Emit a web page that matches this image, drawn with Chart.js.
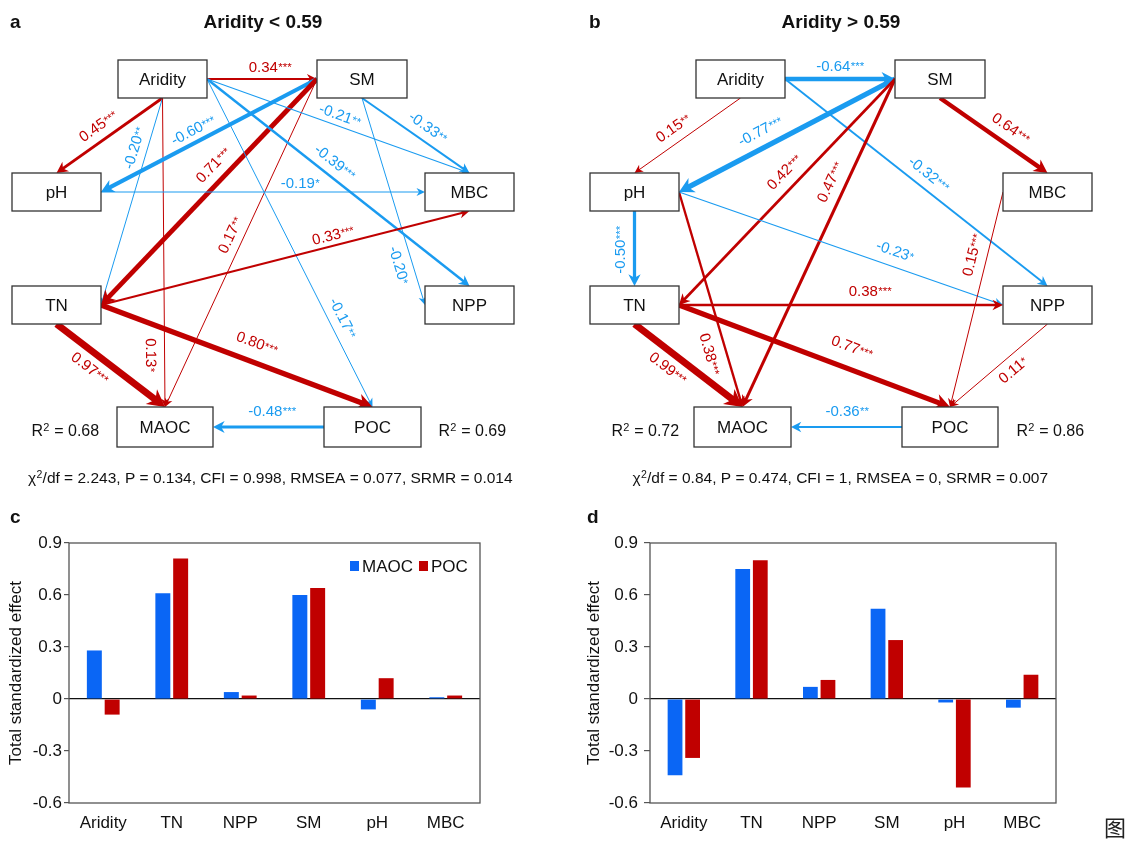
<!DOCTYPE html>
<html>
<head>
<meta charset="utf-8">
<script src="https://cdn.jsdelivr.net/npm/chart.js@4.4.1/dist/chart.umd.min.js"></script>
<style>
  body { margin: 0; background: #fff; }
  #page { position: relative; width: 1127px; height: 842px; overflow: hidden; }
  canvas { position: absolute; }
  #fig { position: absolute; left: 1104px; top: 815px; font: 22px "Noto Sans CJK SC"; line-height: 1; color: #222; }
</style>
</head>
<body>
<div id="page">
  <canvas id="pathLow" width="565" height="500" style="left:0;top:0"></canvas>
  <canvas id="pathHigh" width="562" height="500" style="left:565px;top:0"></canvas>
  <canvas id="barLow" width="565" height="342" style="left:0;top:500px"></canvas>
  <canvas id="barHigh" width="562" height="342" style="left:565px;top:500px"></canvas>
  <span id="fig">图</span>
</div>
<script>
const FONT = '"Liberation Sans", Arial, sans-serif';
const RED = '#c00000';
const BLUE_PATH = '#1a9bf0';
const BLUE_BAR = '#0a66f5';

// SEM paths: [from, to, standardized coefficient, significance]
const pathsLow = [
  ['Aridity', 'SM', 0.34, '***'],
  ['Aridity', 'pH', 0.45, '***'],
  ['Aridity', 'TN', -0.20, '**'],
  ['Aridity', 'MAOC', 0.13, '*'],
  ['SM', 'pH', -0.60, '***'],
  ['SM', 'TN', 0.71, '***'],
  ['SM', 'MAOC', 0.17, '**'],
  ['SM', 'MBC', -0.33, '**'],
  ['SM', 'NPP', -0.20, '*'],
  ['Aridity', 'MBC', -0.21, '**'],
  ['Aridity', 'NPP', -0.39, '***'],
  ['Aridity', 'POC', -0.17, '**'],
  ['pH', 'MBC', -0.19, '*'],
  ['TN', 'MBC', 0.33, '***'],
  ['TN', 'MAOC', 0.97, '***'],
  ['TN', 'POC', 0.80, '***'],
  ['POC', 'MAOC', -0.48, '***']
];
const pathsHigh = [
  ['Aridity', 'SM', -0.64, '***'],
  ['Aridity', 'pH', 0.15, '**'],
  ['Aridity', 'NPP', -0.32, '***'],
  ['SM', 'pH', -0.77, '***'],
  ['SM', 'TN', 0.42, '***'],
  ['SM', 'MAOC', 0.47, '***'],
  ['SM', 'MBC', 0.64, '***'],
  ['pH', 'TN', -0.50, '***'],
  ['pH', 'MAOC', 0.38, '***'],
  ['pH', 'NPP', -0.23, '*'],
  ['TN', 'NPP', 0.38, '***'],
  ['TN', 'MAOC', 0.99, '***'],
  ['TN', 'POC', 0.77, '***'],
  ['MBC', 'POC', 0.15, '***'],
  ['NPP', 'POC', 0.11, '*'],
  ['POC', 'MAOC', -0.36, '**']
];
const r2Low = { MAOC: 0.68, POC: 0.69 };
const r2High = { MAOC: 0.72, POC: 0.86 };
const fitLow = { chi2df: 2.243, P: 0.134, CFI: 0.998, RMSEA: 0.077, SRMR: 0.014 };
const fitHigh = { chi2df: 0.84, P: 0.474, CFI: 1, RMSEA: 0, SRMR: 0.007 };

// total standardized effects on MAOC / POC
const categories = ['Aridity', 'TN', 'NPP', 'SM', 'pH', 'MBC'];
const maocLow = [0.28, 0.61, 0.04, 0.60, -0.06, 0.01];
const pocLow = [-0.09, 0.81, 0.02, 0.64, 0.12, 0.02];
const maocHigh = [-0.44, 0.75, 0.07, 0.52, -0.02, -0.05];
const pocHigh = [-0.34, 0.80, 0.11, 0.34, -0.51, 0.14];
const yTicks = [-0.6, -0.3, 0, 0.3, 0.6, 0.9];

// diagram layout: boxes [x, y, w, h]
const boxesLow = {
  Aridity: [118, 60, 89, 38], SM: [317, 60, 90, 38],
  pH: [12, 173, 89, 38], MBC: [425, 173, 89, 38],
  TN: [12, 286, 89, 38], NPP: [425, 286, 89, 38],
  MAOC: [117, 407, 96, 40], POC: [324, 407, 97, 40]
};
const boxesHigh = {
  Aridity: [696, 60, 89, 38], SM: [895, 60, 90, 38],
  pH: [590, 173, 89, 38], MBC: [1003, 173, 89, 38],
  TN: [590, 286, 89, 38], NPP: [1003, 286, 89, 38],
  MAOC: [694, 407, 97, 40], POC: [902, 407, 96, 40]
};
// per path: source side, target side, label centre x, y, flip text
const wiringLow = [
  ['r', 'l', 270, 67], ['b', 't', 98, 126], ['b', 'r', 134, 148], ['b', 't', 151, 355],
  ['l', 'r', 193, 130], ['l', 'r', 213, 165], ['l', 't', 230, 235], ['b', 't', 428, 127],
  ['b', 'l', 399, 265], ['r', 't', 340, 115], ['r', 't', 335, 162], ['r', 't', 343, 318],
  ['r', 'l', 300, 183], ['r', 'b', 333, 235], ['b', 't', 90, 368], ['r', 't', 257, 343],
  ['l', 'r', 272, 411]
];
const wiringHigh = [
  ['r', 'l', 840, 66], ['b', 't', 673, 128], ['r', 't', 929, 174], ['l', 'r', 760, 131],
  ['l', 'r', 784, 172], ['l', 't', 830, 182], ['b', 't', 1011, 128], ['b', 't', 620, 250, true],
  ['r', 't', 710, 354], ['r', 'l', 895, 251], ['r', 'l', 870, 291], ['b', 't', 668, 368],
  ['r', 't', 852, 347], ['l', 't', 972, 255], ['b', 't', 1013, 370], ['l', 'r', 847, 411]
];

function anchor(b, side) {
  if (side === 't') return [b[0] + b[2] / 2, b[1]];
  if (side === 'b') return [b[0] + b[2] / 2, b[1] + b[3]];
  if (side === 'l') return [b[0], b[1] + b[3] / 2];
  return [b[0] + b[2], b[1] + b[3] / 2];
}

function drawArrow(ctx, x1, y1, x2, y2, lw, col) {
  const ang = Math.atan2(y2 - y1, x2 - x1);
  const len = 7 + 1.5 * lw, half = 3.2 + 0.9 * lw;
  const ex = x2 - Math.cos(ang) * len * 0.6, ey = y2 - Math.sin(ang) * len * 0.6;
  ctx.save();
  ctx.strokeStyle = col;
  ctx.lineWidth = lw;
  ctx.beginPath();
  ctx.moveTo(x1, y1);
  ctx.lineTo(ex, ey);
  ctx.stroke();
  ctx.translate(x2, y2);
  ctx.rotate(ang);
  ctx.fillStyle = col;
  ctx.beginPath();
  ctx.moveTo(0, 0);
  ctx.lineTo(-len, -half);
  ctx.lineTo(-len * 0.7, 0);
  ctx.lineTo(-len, half);
  ctx.closePath();
  ctx.fill();
  ctx.restore();
}

// text followed by a raised smaller part (stars, squared)
function supText(ctx, x, y, parts, size, supSize, raise, align) {
  ctx.font = `${size}px ${FONT}`;
  const w0 = ctx.measureText(parts[0]).width;
  ctx.font = `${supSize}px ${FONT}`;
  const w1 = ctx.measureText(parts[1]).width;
  ctx.font = `${size}px ${FONT}`;
  const w2 = parts[2] ? ctx.measureText(parts[2]).width : 0;
  const total = w0 + w1 + w2;
  const sx = align === 'center' ? x - total / 2 : x;
  ctx.textAlign = 'left';
  ctx.textBaseline = 'alphabetic';
  ctx.fillText(parts[0], sx, y);
  ctx.font = `${supSize}px ${FONT}`;
  ctx.fillText(parts[1], sx + w0 + 0.3, y - raise);
  if (parts[2]) {
    ctx.font = `${size}px ${FONT}`;
    ctx.fillText(parts[2], sx + w0 + w1 + 0.6, y);
  }
}

function pathPlugin(cfg) {
  return {
    id: 'pathDiagram',
    afterDatasetsDraw(chart) {
      const ctx = chart.ctx, xs = chart.scales.x, ys = chart.scales.y;
      const X = v => xs.getPixelForValue(v), Y = v => ys.getPixelForValue(v);

      // arrows
      cfg.paths.forEach((p, i) => {
        const w = cfg.wiring[i];
        const a = anchor(cfg.boxes[p[0]], w[0]), b = anchor(cfg.boxes[p[1]], w[1]);
        const lw = Math.max(1, 7.5 * Math.abs(p[2]) - 0.5);
        drawArrow(ctx, X(a[0]), Y(a[1]), X(b[0]), Y(b[1]), lw, p[2] < 0 ? BLUE_PATH : RED);
      });

      // variable boxes
      Object.keys(cfg.boxes).forEach(name => {
        const b = cfg.boxes[name];
        const x0 = X(b[0]), y0 = Y(b[1]), x1 = X(b[0] + b[2]), y1 = Y(b[1] + b[3]);
        ctx.fillStyle = '#fff';
        ctx.fillRect(x0, y0, x1 - x0, y1 - y0);
        ctx.strokeStyle = '#333';
        ctx.lineWidth = 1.3;
        ctx.strokeRect(x0, y0, x1 - x0, y1 - y0);
        ctx.fillStyle = '#111';
        ctx.font = `17px ${FONT}`;
        ctx.textAlign = 'center';
        ctx.textBaseline = 'middle';
        ctx.fillText(name, (x0 + x1) / 2, (y0 + y1) / 2 + 1);
      });

      // coefficient labels
      cfg.paths.forEach((p, i) => {
        const w = cfg.wiring[i];
        const a = anchor(cfg.boxes[p[0]], w[0]), b = anchor(cfg.boxes[p[1]], w[1]);
        let ang = Math.atan2(Y(b[1]) - Y(a[1]), X(b[0]) - X(a[0]));
        if (ang > Math.PI / 2 + 1e-6) ang -= Math.PI;
        if (ang <= -Math.PI / 2) ang += Math.PI;
        if (w[4]) ang -= Math.PI;
        ctx.save();
        ctx.translate(X(w[2]), Y(w[3]));
        ctx.rotate(ang);
        ctx.fillStyle = p[2] < 0 ? BLUE_PATH : RED;
        supText(ctx, 0, 5, [p[2].toFixed(2), p[3]], 15, 11.5, 1, 'center');
        ctx.restore();
      });

      // R² of the two carbon fractions
      ctx.fillStyle = '#111';
      Object.keys(cfg.r2).forEach(k => {
        const pos = cfg.r2Pos[k];
        supText(ctx, X(pos[0]), Y(pos[1]), ['R', '2', ' = ' + cfg.r2[k].toFixed(2)], 16, 11, 5.5, 'center');
      });

      // model fit
      const f = cfg.fit;
      supText(ctx, X(cfg.fitX), Y(483), ['χ', '2',
        `/df = ${f.chi2df}, P = ${f.P}, CFI = ${f.CFI}, RMSEA = ${f.RMSEA}, SRMR = ${f.SRMR}`],
        15.5, 10.5, 5.5, 'center');

      // panel letter and title
      ctx.fillStyle = '#111';
      ctx.font = `bold 19px ${FONT}`;
      ctx.textAlign = 'left';
      ctx.textBaseline = 'alphabetic';
      ctx.fillText(cfg.letter, X(cfg.letterX), Y(28));
      ctx.textAlign = 'center';
      ctx.fillText(cfg.title, X(cfg.titleX), Y(28));
    }
  };
}

function pathChart(id, cfg) {
  const centres = Object.keys(cfg.boxes).map(k => {
    const b = cfg.boxes[k];
    return { x: b[0] + b[2] / 2, y: b[1] + b[3] / 2 };
  });
  return new Chart(document.getElementById(id), {
    type: 'scatter',
    data: { datasets: [{ data: centres, pointRadius: 0 }] },
    options: {
      responsive: false,
      animation: false,
      devicePixelRatio: 1,
      layout: { padding: 0 },
      plugins: { legend: { display: false }, tooltip: { enabled: false } },
      scales: {
        x: { type: 'linear', display: false, min: cfg.xMin, max: cfg.xMax },
        y: { type: 'linear', display: false, min: 0, max: 500, reverse: true }
      }
    },
    plugins: [pathPlugin(cfg)]
  });
}

pathChart('pathLow', {
  paths: pathsLow, wiring: wiringLow, boxes: boxesLow,
  r2: r2Low, r2Pos: { MAOC: [65, 436], POC: [472, 436] },
  fit: fitLow, fitX: 270,
  letter: 'a', letterX: 10, title: 'Aridity < 0.59', titleX: 263,
  xMin: 0, xMax: 565
});
pathChart('pathHigh', {
  paths: pathsHigh, wiring: wiringHigh, boxes: boxesHigh,
  r2: r2High, r2Pos: { MAOC: [645, 436], POC: [1050, 436] },
  fit: fitHigh, fitX: 840,
  letter: 'b', letterX: 589, title: 'Aridity > 0.59', titleX: 841,
  xMin: 565, xMax: 1127
});

function framePlugin(opts) {
  return {
    id: 'frame',
    afterDraw(chart) {
      const ctx = chart.ctx, a = chart.chartArea;
      ctx.save();
      ctx.strokeStyle = '#555';
      ctx.lineWidth = 1.3;
      ctx.strokeRect(a.left, a.top, a.right - a.left, a.bottom - a.top);
      ctx.fillStyle = '#111';
      ctx.font = `bold 19px ${FONT}`;
      ctx.textAlign = 'left';
      ctx.textBaseline = 'alphabetic';
      ctx.fillText(opts.letter, opts.letterX, 23);
      if (opts.legend) {
        let x = opts.legend[0];
        const y = opts.legend[1];
        ctx.font = `17px ${FONT}`;
        chart.data.datasets.forEach(ds => {
          ctx.fillStyle = ds.backgroundColor;
          ctx.fillRect(x, y - 11, 9, 10);
          x += 12;
          ctx.fillStyle = '#111';
          ctx.fillText(ds.label, x, y);
          x += ctx.measureText(ds.label).width + 6;
        });
      }
      ctx.restore();
    }
  };
}

function barChart(id, maoc, poc, opts) {
  return new Chart(document.getElementById(id), {
    type: 'bar',
    data: {
      labels: categories,
      datasets: [
        { label: 'MAOC', data: maoc, backgroundColor: BLUE_BAR },
        { label: 'POC', data: poc, backgroundColor: RED }
      ]
    },
    options: {
      responsive: false,
      animation: false,
      devicePixelRatio: 1,
      layout: { padding: { left: opts.padLeft, right: opts.padRight, top: 43, bottom: 0 } },
      datasets: { bar: { categoryPercentage: 0.52, barPercentage: 0.84 } },
      plugins: { legend: { display: false }, tooltip: { enabled: false } },
      scales: {
        x: {
          grid: { display: false, drawTicks: false },
          border: { display: false },
          ticks: { color: '#111', font: { family: FONT, size: 17 }, padding: 10 },
          afterFit(s) { s.height = 39; }
        },
        y: {
          min: -0.6, max: 0.9,
          afterBuildTicks(s) { s.ticks = yTicks.map(v => ({ value: v })); },
          ticks: {
            color: '#111', font: { family: FONT, size: 17 }, padding: opts.tickPad,
            callback: v => (v === 0 ? '0' : v.toFixed(1))
          },
          grid: {
            color: c => (c.tick && c.tick.value === 0 ? '#111' : 'rgba(0,0,0,0)'),
            tickColor: '#555', tickLength: opts.tickLen, lineWidth: 1.2
          },
          border: { display: false },
          title: {
            display: true, text: 'Total standardized effect', color: '#111',
            font: { family: FONT, size: 17 }, padding: { top: 4, bottom: 4 }
          },
          afterFit(s) { s.width = opts.axisW; }
        }
      }
    },
    plugins: [framePlugin(opts)]
  });
}

barChart('barLow', maocLow, pocLow, {
  padLeft: 2, axisW: 67, padRight: 85, tickPad: 2, tickLen: 5,
  letter: 'c', letterX: 10, legend: [350, 72]
});
barChart('barHigh', maocHigh, pocHigh, {
  padLeft: 15, axisW: 70, padRight: 71, tickPad: 6, tickLen: 6,
  letter: 'd', letterX: 22
});
</script>
</body>
</html>
